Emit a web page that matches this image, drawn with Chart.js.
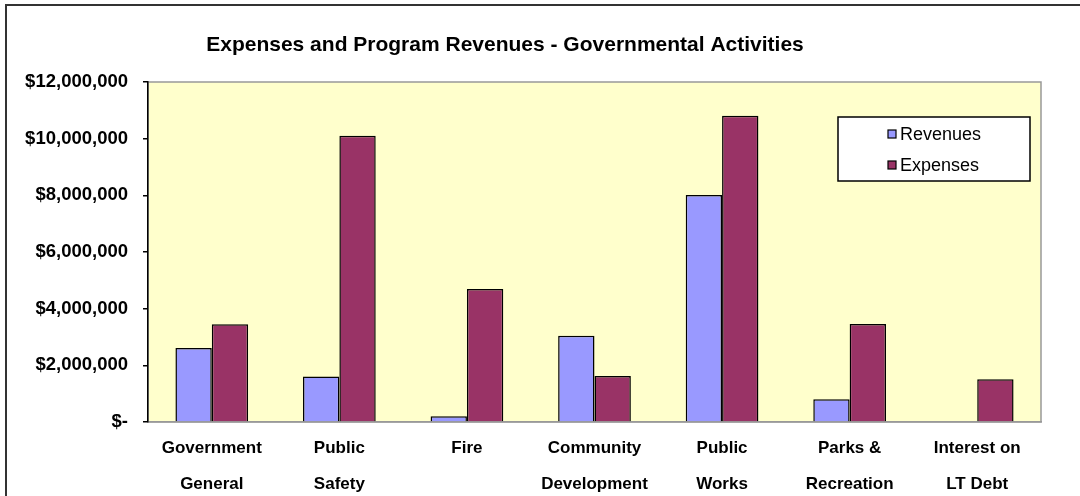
<!DOCTYPE html>
<html>
<head>
<meta charset="utf-8">
<script src="https://cdn.jsdelivr.net/npm/chart.js@4.4.1/dist/chart.umd.min.js"></script>
<style>
  html, body { margin: 0; padding: 0; background: #ffffff; }
  #wrap { width: 1080px; height: 496px; position: relative; }
</style>
</head>
<body>
<div id="wrap"><canvas id="c" width="1080" height="496"></canvas></div>
<script>
const chartTitle = "Expenses and Program Revenues - Governmental Activities";
const categories = [
  ["Government", "General"],
  ["Public", "Safety"],
  ["Fire", ""],
  ["Community", "Development"],
  ["Public", "Works"],
  ["Parks &", "Recreation"],
  ["Interest on", "LT Debt"]
];
const seriesNames = ["Revenues", "Expenses"];
const revenues = [2610000, 1610000, 200000, 3040000, 8010000, 800000, 0];
const expenses = [3450000, 10100000, 4690000, 1620000, 10810000, 3460000, 1510000];
const yTicks = [0, 2000000, 4000000, 6000000, 8000000, 10000000, 12000000];
const colors = ["#9999FF", "#993366"];

const FONT = "'Liberation Sans', Arial, Helvetica, sans-serif";

const decorPlugin = {
  id: 'decor',
  beforeDraw(chart) {
    const ctx = chart.ctx;
    const a = chart.chartArea;
    ctx.save();
    ctx.fillStyle = '#ffffff';
    ctx.fillRect(0, 0, chart.width, chart.height);
    // outer border
    ctx.strokeStyle = '#333333';
    ctx.lineWidth = 2;
    ctx.beginPath();
    ctx.moveTo(6, 497);
    ctx.lineTo(6, 5);
    ctx.lineTo(1082, 5);
    ctx.stroke();
    // plot background
    ctx.fillStyle = '#FFFFCC';
    ctx.fillRect(a.left, a.top, a.right - a.left, a.bottom - a.top);
    ctx.strokeStyle = '#999999';
    ctx.lineWidth = 1.5;
    ctx.strokeRect(a.left, a.top, a.right - a.left, a.bottom - a.top);
    // title
    ctx.fillStyle = '#000000';
    ctx.font = "bold 21px " + FONT;
    ctx.textAlign = 'center';
    ctx.textBaseline = 'middle';
    ctx.fillText(chartTitle, 505, 45);
    ctx.restore();
  },
  afterDraw(chart) {
    const ctx = chart.ctx;
    ctx.save();
    // legend box
    const lx = 838, ly = 117, lw = 192, lh = 64;
    ctx.fillStyle = '#ffffff';
    ctx.fillRect(lx, ly, lw, lh);
    ctx.strokeStyle = '#000000';
    ctx.lineWidth = 1.5;
    ctx.strokeRect(lx, ly, lw, lh);
    ctx.font = "18px " + FONT;
    ctx.textAlign = 'left';
    ctx.textBaseline = 'middle';
    const rows = [134, 165];
    for (let i = 0; i < seriesNames.length; i++) {
      ctx.fillStyle = colors[i];
      ctx.fillRect(888, rows[i] - 4, 8, 8);
      ctx.lineWidth = 1.2;
      ctx.strokeStyle = '#000000';
      ctx.strokeRect(888, rows[i] - 4, 8, 8);
      ctx.fillStyle = '#000000';
      ctx.fillText(seriesNames[i], 900, rows[i] + 1);
    }
    ctx.restore();
  }
};

new Chart(document.getElementById('c'), {
  type: 'bar',
  data: {
    labels: categories,
    datasets: [
      { label: seriesNames[0], data: revenues, backgroundColor: colors[0], borderColor: '#000000', borderWidth: 1.5, borderSkipped: 'start' },
      { label: seriesNames[1], data: expenses, backgroundColor: colors[1], borderColor: '#000000', borderWidth: 1.5, borderSkipped: 'start' }
    ]
  },
  options: {
    responsive: false,
    animation: false,
    devicePixelRatio: 1,
    layout: { padding: { top: 82, right: 39, left: 0, bottom: 0 } },
    datasets: { bar: { categoryPercentage: 0.57, barPercentage: 1.0 } },
    plugins: {
      legend: { display: false },
      title: { display: false },
      tooltip: { enabled: false }
    },
    scales: {
      x: {
        grid: { display: false, drawTicks: false },
        border: { display: true, color: '#999999', width: 1.5 },
        ticks: {
          color: '#000000',
          font: { family: FONT, size: 17, weight: 'bold', lineHeight: 36 / 17 },
          padding: 8,
          maxRotation: 0,
          autoSkip: false
        },
        afterFit(scale) { scale.height = 74; }
      },
      y: {
        min: 0,
        max: 12000000,
        afterBuildTicks(scale) { scale.ticks = yTicks.map(v => ({ value: v })); },
        grid: { display: true, drawOnChartArea: false, drawTicks: true, tickLength: 5, color: '#000000', lineWidth: 1.5 },
        border: { display: true, color: '#000000', width: 1.5 },
        ticks: {
          color: '#000000',
          font: { family: FONT, size: 18.5, weight: 'bold' },
          padding: 15,
          callback(v) { return v === 0 ? '$-' : '$' + Number(v).toLocaleString('en-US'); }
        },
        afterFit(scale) { scale.width = 148; }
      }
    }
  },
  plugins: [decorPlugin]
});
</script>
</body>
</html>
